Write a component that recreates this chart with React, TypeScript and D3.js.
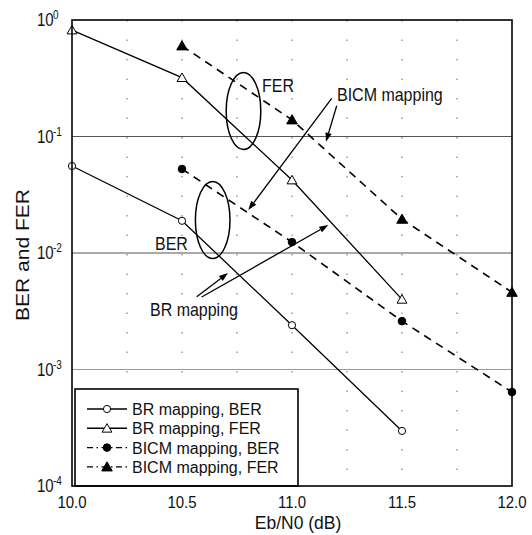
import React, { useEffect, useRef } from "react";
import * as d3 from "d3";

// Eb/N0 values (dB) for each mapping
const brSnr = [10.0, 10.5, 11.0, 11.5];
const bicmSnr = [10.5, 11.0, 11.5, 12.0];

// error rates
const brBer = [0.0558, 0.0189, 0.0024, 0.000297];
const brFer = [0.82, 0.32, 0.0423, 0.004];
const bicmBer = [0.0526, 0.0124, 0.0026, 0.00064];
const bicmFer = [0.6, 0.139, 0.0195, 0.0046];

const xTicks = [10.0, 10.5, 11.0, 11.5, 12.0];
const yTicks = [0, -1, -2, -3, -4];
const xMinor = [10.25, 10.5, 10.75, 11.0, 11.25, 11.5, 11.75];

const legendLabels = [
  "BR mapping, BER",
  "BR mapping, FER",
  "BICM mapping, BER",
  "BICM mapping, FER",
];

// annotations in data coordinates: [x, y]
const ellipseCenters: [number, number][] = [
  [10.7795, 0.1656],
  [10.6395, 0.0192],
];
const noteTexts = ["FER", "BICM mapping", "BER", "BR mapping"];
const notePos: [number, number][] = [
  [10.8636, 0.241],
  [11.2045, 0.2018],
  [10.3773, 0.0106],
  [10.3545, 0.00288],
];
const arrows: [number, number, number, number][] = [
  [11.1805, 0.2128, 10.8014, 0.0234],
  [11.2032, 0.1838, 11.1545, 0.0902],
  [10.5668, 0.00422, 10.7091, 0.00673],
  [10.5895, 0.00419, 11.165, 0.01738],
];

const FONT = "'Liberation Sans', Arial, Helvetica, sans-serif";
const STRETCH = 1.2; // the scan is taller than it is wide

export default function App() {
  const ref = useRef<SVGSVGElement | null>(null);

  useEffect(() => {
    const width = 532;
    const height = 535;
    const margin = { top: 20, right: 20, bottom: 49, left: 72 };

    const svg = d3.select(ref.current);
    svg.selectAll("*").remove();
    svg.attr("width", width).attr("height", height);

    const x = d3
      .scaleLinear()
      .domain([10, 12])
      .range([margin.left, width - margin.right]);
    const y = d3
      .scaleLog()
      .domain([1e-4, 1])
      .range([height - margin.bottom, margin.top]);

    const [x0, x1] = x.range();
    const [y0, y1] = y.range();

    const addText = (
      tx: number,
      ty: number,
      str: string,
      size: number,
      anchor = "start",
      stretch = STRETCH,
    ) =>
      svg
        .append("text")
        .attr("transform", `translate(${tx},${ty}) scale(1,${stretch})`)
        .attr("text-anchor", anchor)
        .style("font-family", FONT)
        .style("font-size", `${size}px`)
        .attr("fill", "#111")
        .text(str);

    // grid
    svg
      .append("g")
      .selectAll("line")
      .data(xMinor)
      .enter()
      .append("line")
      .attr("x1", (d) => x(d))
      .attr("x2", (d) => x(d))
      .attr("y1", y1)
      .attr("y2", y0)
      .attr("stroke", "#666")
      .attr("stroke-width", 1)
      .attr("stroke-dasharray", "1.5,18");

    svg
      .append("g")
      .selectAll("line")
      .data(yTicks.slice(1, 4))
      .enter()
      .append("line")
      .attr("x1", x0)
      .attr("x2", x1)
      .attr("y1", (d) => y(Math.pow(10, d)))
      .attr("y2", (d) => y(Math.pow(10, d)))
      .attr("stroke", (d) => (d === -3 ? "#999" : "#555"))
      .attr("stroke-width", 1.2);

    // series
    const line = d3
      .line<[number, number]>()
      .x((d) => x(d[0]))
      .y((d) => y(d[1]));

    const series = [
      { xs: brSnr, ys: brBer, dash: null, marker: "circle", fill: "#fff" },
      { xs: brSnr, ys: brFer, dash: null, marker: "triangle", fill: "#fff" },
      { xs: bicmSnr, ys: bicmBer, dash: "8,6", marker: "circle", fill: "#000" },
      { xs: bicmSnr, ys: bicmFer, dash: "8,6", marker: "triangle", fill: "#000" },
    ];

    const drawMarker = (
      g: d3.Selection<SVGGElement, unknown, null, undefined>,
      cx: number,
      cy: number,
      marker: string,
      fill: string,
    ) => {
      if (marker === "circle") {
        g.append("circle")
          .attr("cx", cx)
          .attr("cy", cy)
          .attr("r", fill === "#000" ? 3.8 : 3.6)
          .attr("fill", fill)
          .attr("stroke", "#000")
          .attr("stroke-width", 1);
      } else {
        g.append("path")
          .attr(
            "d",
            d3.symbol(d3.symbolTriangle, fill === "#000" ? 48 : 42)() ?? "",
          )
          .attr("transform", `translate(${cx},${cy + 1})`)
          .attr("fill", fill)
          .attr("stroke", "#000")
          .attr("stroke-width", 1);
      }
    };

    const plot = svg.append("g");
    series.forEach((s) => {
      const pts = s.xs.map((v, i) => [v, s.ys[i]] as [number, number]);
      plot
        .append("path")
        .attr("d", line(pts) ?? "")
        .attr("fill", "none")
        .attr("stroke", "#000")
        .attr("stroke-width", s.dash ? 1.6 : 1.3)
        .attr("stroke-dasharray", s.dash);
      pts.forEach((p) => drawMarker(plot, x(p[0]), y(p[1]), s.marker, s.fill));
    });

    // annotations
    ellipseCenters.forEach((c) => {
      svg
        .append("ellipse")
        .attr("cx", x(c[0]))
        .attr("cy", y(c[1]))
        .attr("rx", 17.3)
        .attr("ry", 38.5)
        .attr("fill", "none")
        .attr("stroke", "#000")
        .attr("stroke-width", 1.5);
    });

    arrows.forEach((a) => {
      const sx = x(a[0]);
      const sy = y(a[1]);
      const ex = x(a[2]);
      const ey = y(a[3]);
      const ang = Math.atan2(ey - sy, ex - sx);
      const len = 9;
      const wid = 3.2;
      const bx = ex - len * Math.cos(ang);
      const by = ey - len * Math.sin(ang);
      svg
        .append("line")
        .attr("x1", sx)
        .attr("y1", sy)
        .attr("x2", bx)
        .attr("y2", by)
        .attr("stroke", "#000")
        .attr("stroke-width", 1.3);
      const px = -Math.sin(ang) * wid;
      const py = Math.cos(ang) * wid;
      svg
        .append("path")
        .attr(
          "d",
          `M${ex},${ey}L${bx + px},${by + py}L${bx - px},${by - py}Z`,
        )
        .attr("fill", "#000");
    });

    noteTexts.forEach((t, i) => {
      addText(x(notePos[i][0]), y(notePos[i][1]), t, 16);
    });

    // legend
    const lg = svg.append("g");
    const lgLeft = x0 + 3;
    const lgTop = 389;
    lg.append("rect")
      .attr("x", lgLeft)
      .attr("y", lgTop)
      .attr("width", 223)
      .attr("height", y0 - lgTop)
      .attr("fill", "#fff")
      .attr("stroke", "#000")
      .attr("stroke-width", 1.6);
    legendLabels.forEach((lab, i) => {
      const cy = lgTop + 20 + i * 19.3;
      const s = series[i];
      lg.append("line")
        .attr("x1", lgLeft + 12)
        .attr("x2", lgLeft + 52)
        .attr("y1", cy)
        .attr("y2", cy)
        .attr("stroke", "#000")
        .attr("stroke-width", 1.4)
        .attr("stroke-dasharray", s.dash ? "6,3.5,1.5,3.5" : null);
      drawMarker(lg, lgLeft + 32, cy, s.marker, s.fill);
      addText(lgLeft + 57, cy + 6, lab, 16, "start", 1.08);
    });

    // frame
    svg
      .append("rect")
      .attr("x", x0)
      .attr("y", y1)
      .attr("width", x1 - x0)
      .attr("height", y0 - y1)
      .attr("fill", "none")
      .attr("stroke", "#000")
      .attr("stroke-width", 1.6);

    // axes labels
    xTicks.forEach((t) => {
      addText(x(t), y0 + 22, d3.format(".1f")(t), 15, "middle", 1.1);
    });

    yTicks.forEach((p) => {
      const ty = y(Math.pow(10, p));
      addText(x0 - 35, ty + 6, "10", 15);
      addText(x0 - 19, ty - 1, p === 0 ? "0" : `${p}`, 10);
    });

    addText((x0 + x1) / 2 + 6, y0 + 43, "Eb/N0 (dB)", 17.5, "middle", 1.08);

    svg
      .append("text")
      .attr("transform", `translate(29,255) rotate(-90) scale(${STRETCH},1)`)
      .attr("text-anchor", "middle")
      .style("font-family", FONT)
      .style("font-size", "17.5px")
      .attr("fill", "#111")
      .text("BER and FER");
  }, []);

  return (
    <svg
      ref={ref}
      style={{ position: "absolute", left: 0, top: 0, background: "#fff" }}
    ></svg>
  );
}
